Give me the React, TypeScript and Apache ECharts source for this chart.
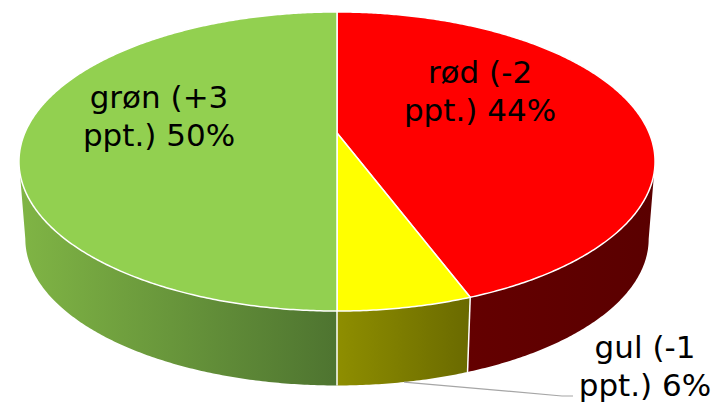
import React, { useEffect, useRef } from "react";
import * as echarts from "echarts";

// ---- data ----
const categories = ["rød", "gul", "grøn"];
const changes = ["-2", "-1", "+3"];
const values = [44.3, 5.7, 50];

// ---- styles ----
const topColors = ["#FF0000", "#FFFF00", "#92D050"];
const wallColors = [
  ["#640000", "#5A0000"],
  ["#8E8E00", "#6A6A00"],
  ["#80B545", "#4E7430"],
];
const labelCenters = [
  [480, 91],
  [645, 366],
  [159, 116],
];
const labelOutside = [false, true, false];

// ---- projection (perspective disk) ----
const CX = 337;
const CY = 133;
const RX = 312.2;
const RY = 144.1;
const PERSP = 0.1906;
const DEPTH = 78;
const BOT_SCALE = 0.98;
// silhouette tangent angles (clockwise from 12 o'clock)
const TAN = (Math.asin(PERSP) * 180) / Math.PI;
const VIS_FROM = 90 + TAN;
const VIS_TO = 270 - TAN;

function proj(theta: number, bottom: boolean): number[] {
  const t = ((90 - theta) * Math.PI) / 180;
  const u = Math.cos(t);
  const w = Math.sin(t);
  const d = 1 + PERSP * w;
  const s = bottom ? BOT_SCALE : 1;
  return [CX + (s * RX * u) / d, CY + (bottom ? DEPTH : 0) - (s * RY * w) / d];
}

function arc(a: number, b: number, bottom: boolean): number[][] {
  const n = Math.max(2, Math.ceil(Math.abs(b - a) / 0.5));
  const pts: number[][] = [];
  for (let i = 0; i <= n; i++) pts.push(proj(a + ((b - a) * i) / n, bottom));
  return pts;
}

const total = values.reduce((s, v) => s + v, 0);
function sliceRange(i: number): number[] {
  let acc = 0;
  for (let k = 0; k < i; k++) acc += values[k];
  return [(acc / total) * 360, ((acc + values[i]) / total) * 360];
}

const FONT = "'DejaVu Sans', sans-serif";

function renderWall(params: any) {
  const i = params.dataIndex;
  const [s, e] = sliceRange(i);
  const children: any[] = [];
  const a = Math.max(s, VIS_FROM);
  const b = Math.min(e, VIS_TO);
  if (b > a) {
    const top = arc(a, b, false);
    const bot = arc(a, b, true).reverse();
    const pts = top.concat(bot);
    let minX = Infinity;
    let maxX = -Infinity;
    pts.forEach((p) => {
      minX = Math.min(minX, p[0]);
      maxX = Math.max(maxX, p[0]);
    });
    children.push({
      type: "polygon",
      shape: { points: pts },
      style: {
        fill: new echarts.graphic.LinearGradient(
          minX,
          0,
          maxX,
          0,
          [
            { offset: 0, color: wallColors[i][0] },
            { offset: 1, color: wallColors[i][1] },
          ],
          true
        ),
        stroke: null,
      },
    });
  }
  if (s > 90 && s < 270) {
    const p0 = proj(s, false);
    const p1 = proj(s, true);
    children.push({
      type: "line",
      shape: { x1: p0[0], y1: p0[1], x2: p1[0], y2: p1[1] },
      style: { stroke: "#FFFFFF", lineWidth: 1.5 },
    });
  }
  return { type: "group", children };
}

function renderTop(params: any, api: any) {
  const i = params.dataIndex;
  const [s, e] = sliceRange(i);
  const pts = [[CX, CY]].concat(arc(s, e, false));
  const pct = Math.round((api.value(0) / total) * 100);
  const text = `${categories[i]} (${changes[i]}\nppt.) ${pct}%`;
  const [lx, ly] = labelCenters[i];
  const children: any[] = [
    {
      type: "polygon",
      shape: { points: pts },
      style: { fill: topColors[i], stroke: "#FFFFFF", lineWidth: 1.5, lineJoin: "round" },
    },
  ];
  if (labelOutside[i]) {
    const mid = proj((s + e) / 2, true);
    children.push({
      type: "polyline",
      shape: {
        points: [
          [mid[0], mid[1]],
          [lx - 83, ly + 30],
          [lx - 72, ly + 30],
        ],
      },
      style: { stroke: "#A6A6A6", lineWidth: 1.2, fill: null },
    });
  }
  children.push({
    type: "text",
    style: {
      text,
      x: lx,
      y: ly,
      fill: "#000000",
      fontSize: 31,
      fontFamily: FONT,
      lineHeight: 38,
      align: "center",
      verticalAlign: "middle",
    },
  });
  return { type: "group", children };
}

export default function App() {
  const ref = useRef<HTMLDivElement>(null);
  useEffect(() => {
    const chart = echarts.init(ref.current!, null, { renderer: "svg" });
    const data = values.map((v, i) => ({ name: categories[i], value: [v, i] }));
    chart.setOption({
      animation: false,
      backgroundColor: "#FFFFFF",
      series: [
        {
          type: "custom",
          name: "walls",
          coordinateSystem: "none",
          silent: true,
          z: 1,
          renderItem: renderWall,
          data,
        },
        {
          type: "custom",
          name: "tops",
          coordinateSystem: "none",
          silent: true,
          z: 2,
          renderItem: renderTop,
          data,
        },
      ],
    });
    return () => chart.dispose();
  }, []);
  return (
    <div
      ref={ref}
      style={{ position: "fixed", left: 0, top: 0, width: 718, height: 405, background: "#FFFFFF" }}
    />
  );
}
